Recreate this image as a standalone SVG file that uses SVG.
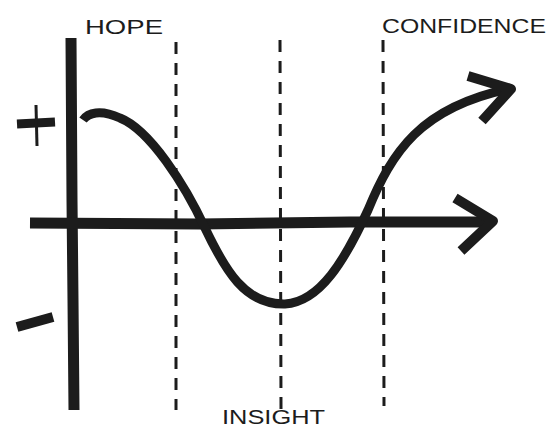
<svg xmlns="http://www.w3.org/2000/svg" width="551" height="445" viewBox="0 0 551 445">
<style>
.ink{fill:none;stroke:#1c1c1c;stroke-linecap:butt;stroke-linejoin:round}
.dash{fill:none;stroke:#1c1c1c;stroke-width:3;stroke-dasharray:12 9}
.lbl{font-family:"Liberation Sans",Arial,sans-serif;fill:#1c1c1c;font-size:20px}
</style>
<rect width="551" height="445" fill="#ffffff"/>
<g id="axes">
<path class="ink" stroke-width="11" d="M71 38 L72 200 L73 300 L74 410"/>
<path class="ink" stroke-width="11" d="M30 223 L200 224 L350 222 L493 222"/>
<path class="ink" stroke-width="10" d="M455 198 L493 221 L461 251"/>
</g>
<g id="signs">
<path class="ink" stroke-width="9" d="M17 124 L55 122"/>
<path class="ink" stroke-width="3" d="M36 105 L37 146"/>
<path class="ink" stroke-width="10" d="M17 327 L53 317"/>
</g>
<g id="dividers">
<path class="dash" d="M176 42 L176 410"/>
<path class="dash" d="M280 40 L281 410"/>
<path class="dash" d="M383 40 L384 406"/>
</g>
<g id="curve">
<path class="ink" stroke-width="9" d="M83 120 C88 113 100 109 120 118 C150 130 185 185 205 228 C225 270 245 305 285 304 C320 302 345 260 368 210 C392 152 420 108 508 89"/>
<path class="ink" stroke-width="10" d="M468 76 L511 89 L482 121"/>
</g>
<g id="labels">
<text class="lbl" x="85" y="34" font-size="22" textLength="78" lengthAdjust="spacingAndGlyphs">HOPE</text>
<text class="lbl" x="382" y="33" font-size="18" textLength="164" lengthAdjust="spacingAndGlyphs">CONFIDENCE</text>
<text class="lbl" x="222" y="424" font-size="22" textLength="103" lengthAdjust="spacingAndGlyphs">INSIGHT</text>
</g>
</svg>
